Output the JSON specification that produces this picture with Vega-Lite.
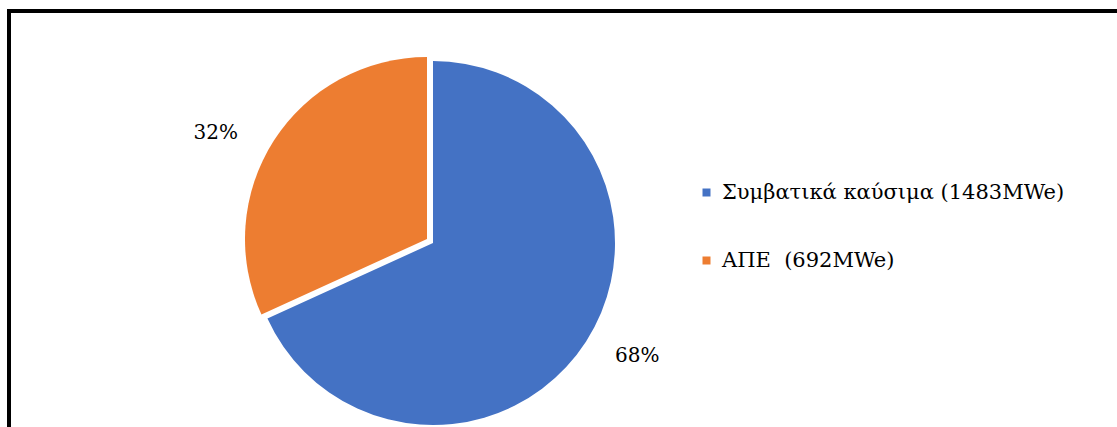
{
  "$schema": "https://vega.github.io/schema/vega-lite/v6.json",
  "width": 1108,
  "height": 416,
  "padding": {"left": 9, "top": 11, "right": 0, "bottom": 0},
  "autosize": {"type": "none"},
  "background": "white",
  "config": {"view": {"stroke": null}, "font": "DejaVu Serif"},
  "data": {"values": [
    {"cat": "Συμβατικά καύσιμα (1483MWe)", "value": 1483, "pct": "68%"},
    {"cat": "ΑΠΕ\u00a0 (692MWe)", "value": 692, "pct": "32%"}
  ]},
  "layer": [
    {"mark": {"type": "rule", "color": "black", "strokeWidth": 4, "strokeCap": "square"}, "encoding": {"y": {"value": 0}}},
    {"mark": {"type": "rule", "color": "black", "strokeWidth": 4, "strokeCap": "square"}, "encoding": {"x": {"value": 0}}},
    {
      "mark": {"type": "arc", "radius": 182},
      "encoding": {
        "theta": {"field": "value", "type": "quantitative", "stack": true},
        "order": {"field": "value", "type": "quantitative", "sort": "descending"},
        "color": {"field": "cat", "type": "nominal",
          "scale": {"domain": ["Συμβατικά καύσιμα (1483MWe)", "ΑΠΕ\u00a0 (692MWe)"], "range": ["#4472C4", "#ED7D31"]},
          "legend": {"title": null, "orient": "none", "legendX": 687, "legendY": 171, "symbolType": "square", "symbolSize": 64, "symbolStrokeWidth": 0, "labelFontSize": 21, "labelFont": "DejaVu Serif", "labelColor": "#000000", "rowPadding": 46, "labelOffset": 5, "labelLimit": 500}},
        "x": {"value": 424},
        "y": {"value": 232},
        "opacity": {"condition": {"test": "datum.value == 1483", "value": 1}, "value": 0}
      }
    },
    {
      "mark": {"type": "arc", "radius": 182},
      "encoding": {
        "theta": {"field": "value", "type": "quantitative", "stack": true},
        "order": {"field": "value", "type": "quantitative", "sort": "descending"},
        "color": {"field": "cat", "type": "nominal"},
        "x": {"value": 418},
        "y": {"value": 228},
        "opacity": {"condition": {"test": "datum.value == 692", "value": 1}, "value": 0}
      }
    },
    {
      "mark": {"type": "text", "radius": 232, "fontSize": 20, "font": "DejaVu Serif", "color": "black", "dx": -22, "dy": 15},
      "encoding": {
        "theta": {"field": "value", "type": "quantitative", "stack": true},
        "order": {"field": "value", "type": "quantitative", "sort": "descending"},
        "text": {"field": "pct", "type": "nominal"},
        "x": {"value": 424},
        "y": {"value": 232},
        "opacity": {"condition": {"test": "datum.value == 692", "value": 1}, "value": 0}
      }
    },
    {
      "mark": {"type": "text", "radius": 232, "fontSize": 20, "font": "DejaVu Serif", "color": "black", "dx": 9, "dy": -12},
      "encoding": {
        "theta": {"field": "value", "type": "quantitative", "stack": true},
        "order": {"field": "value", "type": "quantitative", "sort": "descending"},
        "text": {"field": "pct", "type": "nominal"},
        "x": {"value": 424},
        "y": {"value": 232},
        "opacity": {"condition": {"test": "datum.value == 1483", "value": 1}, "value": 0}
      }
    }
  ]
}
